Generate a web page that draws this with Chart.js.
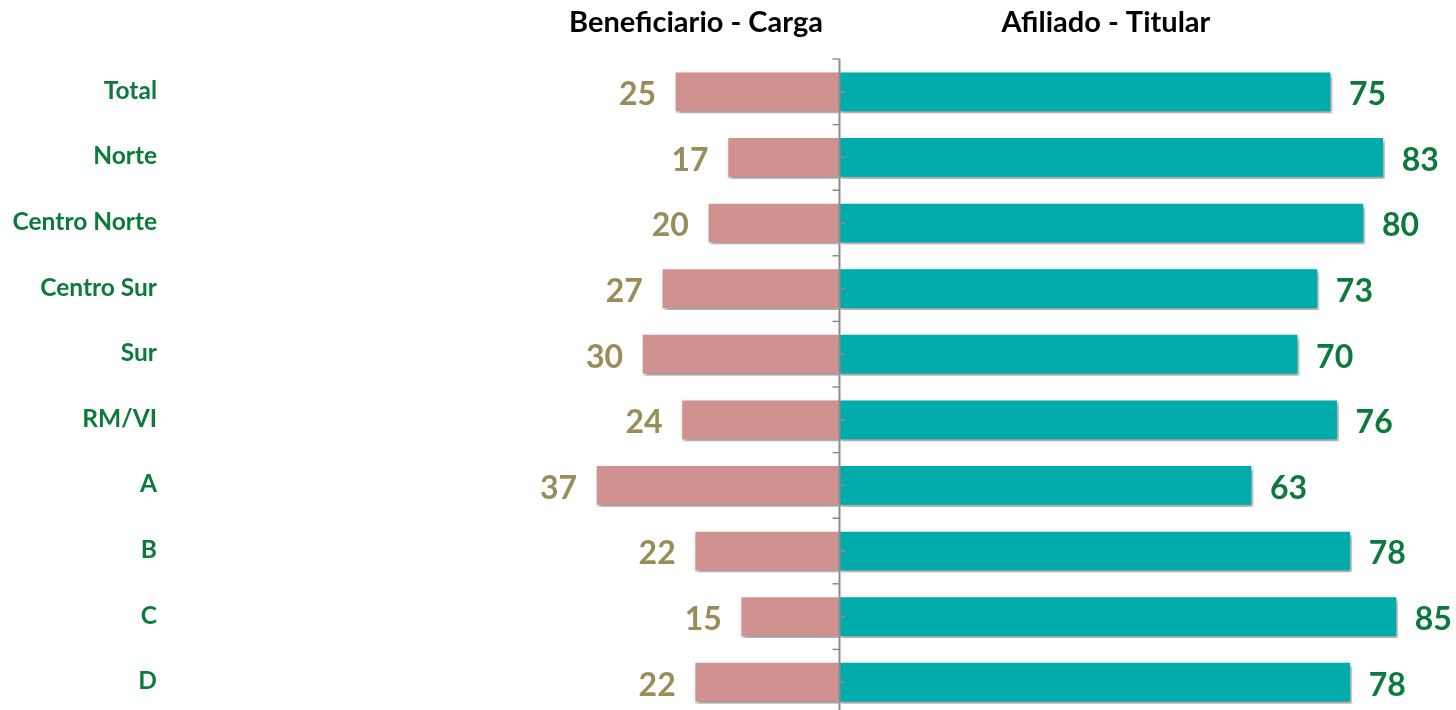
<!DOCTYPE html>
<html>
<head>
<meta charset="utf-8">
<script src="https://cdn.jsdelivr.net/npm/chart.js@4/dist/chart.umd.min.js"></script>
<style>
  html, body { margin: 0; padding: 0; background: #fff; overflow: hidden; }
  #wrap { width: 1456px; height: 720px; position: relative; }
</style>
</head>
<body>
<div id="wrap"><canvas id="chart"></canvas></div>
<script>
// Data
const categories = ['Total', 'Norte', 'Centro Norte', 'Centro Sur', 'Sur', 'RM/VI', 'A', 'B', 'C', 'D'];
const beneficiario = [25, 17, 20, 27, 30, 24, 37, 22, 15, 22];
const afiliado = [75, 83, 80, 73, 70, 76, 63, 78, 85, 78];
const headers = ['Beneficiario - Carga', 'Afiliado - Titular'];

const FONT = 'Lato, "Open Sans", sans-serif';
const PINK = '#D09191';
const TEAL = '#00ABAB';
const OLIVE = '#998D5A';
const GREEN = '#0B7A3B';

// Shadow under the bars
const shadowPlugin = {
    id: 'barShadow',
    beforeDatasetsDraw(chart) {
        const ctx = chart.ctx;
        ctx.save();
        ctx.shadowColor = 'rgba(0,0,0,0.4)';
        ctx.shadowOffsetX = 2;
        ctx.shadowOffsetY = 3;
        ctx.shadowBlur = 4;
    },
    afterDatasetsDraw(chart) {
        chart.ctx.restore();
    }
};

// Center axis, labels, headers
const decorPlugin = {
    id: 'decor',
    afterDatasetsDraw(chart) {
        const ctx = chart.ctx;
        const x = chart.scales.x;
        const y = chart.scales.y;
        const area = chart.chartArea;
        const x0 = Math.round(x.getPixelForValue(0)) + 0.5;

        ctx.save();
        // vertical axis line
        ctx.strokeStyle = '#8C8C8C';
        ctx.lineWidth = 2;
        ctx.beginPath();
        ctx.moveTo(x0, area.top);
        ctx.lineTo(x0, area.bottom);
        ctx.stroke();

        const step = (area.bottom - area.top) / categories.length;
        ctx.lineWidth = 1.5;
        for (let i = 0; i <= categories.length; i++) {
            const yb = area.top + i * step;
            ctx.beginPath();
            ctx.moveTo(x0 - 7, yb);
            ctx.lineTo(x0, yb);
            ctx.stroke();
        }
        categories.forEach((c, i) => {
            const yc = y.getPixelForValue(i);
            ctx.beginPath();
            ctx.moveTo(x0, yc);
            ctx.lineTo(x0 + 6, yc);
            ctx.stroke();
        });

        // category labels
        ctx.font = 'bold 24.5px ' + FONT;
        ctx.fillStyle = GREEN;
        ctx.textAlign = 'right';
        ctx.textBaseline = 'middle';
        categories.forEach((c, i) => {
            ctx.fillText(c, 157, y.getPixelForValue(i) - 1);
        });

        // value labels
        ctx.font = 'bold 32px ' + FONT;
        const left = chart.getDatasetMeta(0).data;
        const right = chart.getDatasetMeta(1).data;
        ctx.fillStyle = OLIVE;
        ctx.textAlign = 'right';
        left.forEach((bar, i) => {
            ctx.fillText(beneficiario[i], bar.x - 18, bar.y + 3);
        });
        ctx.fillStyle = GREEN;
        ctx.textAlign = 'left';
        right.forEach((bar, i) => {
            ctx.fillText(afiliado[i], bar.x + 17, bar.y + 3);
        });

        // headers
        ctx.font = 'bold 29px ' + FONT;
        ctx.fillStyle = '#000';
        ctx.textAlign = 'center';
        ctx.fillText(headers[0], 696, 23);
        ctx.fillText(headers[1], 1106, 23);
        ctx.restore();
    }
};

new Chart(document.getElementById('chart'), {
    type: 'bar',
    data: {
        labels: categories,
        datasets: [
            {
                label: headers[0],
                data: beneficiario.map(v => -v),
                backgroundColor: PINK,
                borderColor: '#fff',
                borderWidth: 2,
                barThickness: 42
            },
            {
                label: headers[1],
                data: afiliado,
                backgroundColor: TEAL,
                borderColor: '#fff',
                borderWidth: 2,
                barThickness: 42
            }
        ]
    },
    options: {
        indexAxis: 'y',
        responsive: true,
        maintainAspectRatio: false,
        animation: false,
        layout: { padding: { left: 509.5, right: 25.3, top: 59, bottom: 5 } },
        scales: {
            x: { stacked: true, min: -50, max: 90, display: false },
            y: { stacked: true, display: false }
        },
        plugins: {
            legend: { display: false },
            tooltip: { enabled: false }
        }
    },
    plugins: [shadowPlugin, decorPlugin]
});
</script>
</body>
</html>
